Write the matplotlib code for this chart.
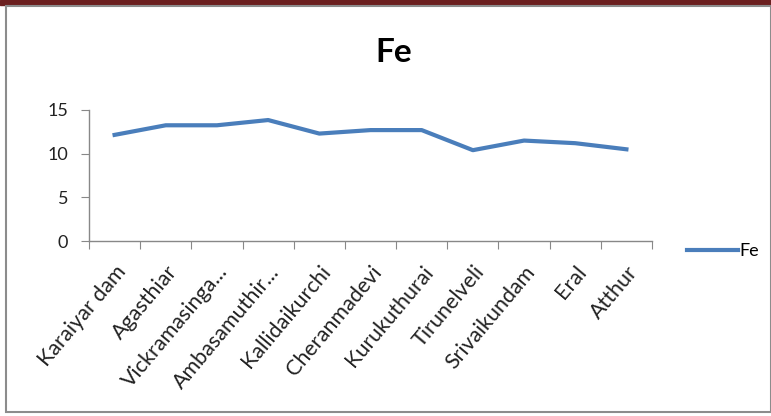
import matplotlib
matplotlib.use("Agg")
import matplotlib.pyplot as plt
from matplotlib.patches import Rectangle

categories = ["Karaiyar dam", "Agasthiar", "Vickramasinga...", "Ambasamuthir...",
              "Kallidaikurchi", "Cheranmadevi", "Kurukuthurai", "Tirunelveli",
              "Srivaikundam", "Eral", "Atthur"]
fe_values = [12.15, 13.25, 13.25, 13.85, 12.3, 12.7, 12.7, 10.4, 11.5, 11.2, 10.5]
y_ticks = [0, 5, 10, 15]

plt.rcParams['font.family'] = ['Lato', 'DejaVu Sans']

W, H = 771, 416
fig = plt.figure(figsize=(W/100, H/100), dpi=100)

# frame decorations
fig.patches.append(Rectangle((0, 1 - 5/H), 1, 5/H, transform=fig.transFigure,
                             color='#6b1f1f', zorder=0))
fig.patches.append(Rectangle((6/W, 4/H), (W - 6)/W, (H - 10)/H, transform=fig.transFigure,
                             fill=False, edgecolor='#8c8c8c', lw=1.5, zorder=0))

ax = fig.add_axes([89/W, 1 - 241/H, (652 - 89)/W, (241 - 110)/H])
x = list(range(len(categories)))
ax.plot(x, fe_values, color='#4a7ebb', lw=3.0, solid_joinstyle='round', label='Fe')
ax.set_xlim(-0.5, len(categories) - 0.5)
ax.set_ylim(0, 15)
ax.set_yticks(y_ticks)
ax.set_yticklabels([str(v) for v in y_ticks], fontsize=13, color='#222222')
ax.set_xticks([i - 0.5 for i in range(len(categories) + 1)])
ax.set_xticklabels([])
ax.set_xticks(x, minor=True)
ax.set_xticklabels(categories, minor=True, rotation=50, ha='right',
                   rotation_mode='anchor', fontsize=15.5, color='#222222')
ax.tick_params(axis='x', which='minor', length=0, pad=15)
ax.tick_params(axis='x', which='major', length=6, color='#888888', direction='out')
ax.tick_params(axis='y', length=6, color='#888888', direction='out', pad=9)
for s in ['top', 'right']:
    ax.spines[s].set_visible(False)
for s in ['left', 'bottom']:
    ax.spines[s].set_color('#888888')
    ax.spines[s].set_linewidth(1.0)

fig.text(394/W, 1 - 52/H, 'Fe', ha='center', va='center', fontsize=24, fontweight='bold')

leg = fig.legend(loc='center left', bbox_to_anchor=(671/W, 1 - 251/H), frameon=False,
                 fontsize=13, handlelength=2.8, handletextpad=0.1)

fig.savefig('out.png', dpi=100)
